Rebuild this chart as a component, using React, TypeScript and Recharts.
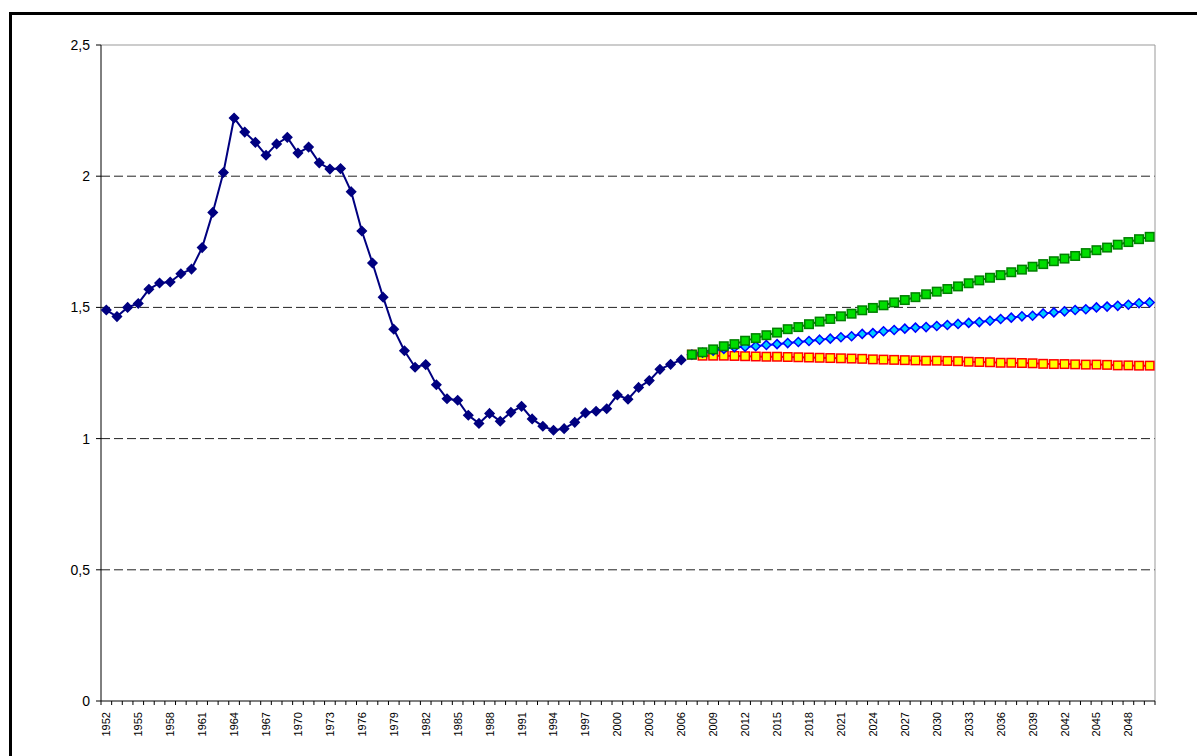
import React from "react";
import {
  LineChart,
  Line,
  XAxis,
  YAxis,
  CartesianGrid,
  ReferenceLine,
} from "recharts";

// years on the category axis
const YEARS: number[] = Array.from({ length: 99 }, (_, i) => 1952 + i);

// observed fertility, 1952-2006
const HISTORY: number[] = [
  1.49, 1.465, 1.5, 1.515, 1.569, 1.593, 1.597, 1.628, 1.646, 1.728,
  1.862, 2.014, 2.222, 2.168, 2.129, 2.08, 2.123, 2.148, 2.088, 2.111,
  2.051, 2.027, 2.029, 1.941, 1.791, 1.669, 1.539, 1.417, 1.335, 1.272,
  1.282, 1.205, 1.152, 1.146, 1.089, 1.058, 1.096, 1.066, 1.1, 1.123,
  1.075, 1.047, 1.032, 1.038, 1.062, 1.098, 1.104, 1.114, 1.166, 1.15,
  1.195, 1.221, 1.264, 1.283, 1.3,
];

// projections, 2007-2050
const HIGH: number[] = [
  1.32, 1.329, 1.34, 1.352, 1.36, 1.373, 1.383, 1.394, 1.404, 1.417,
  1.425, 1.436, 1.446, 1.456, 1.466, 1.476, 1.489, 1.498, 1.508, 1.519,
  1.528, 1.539, 1.55, 1.56, 1.57, 1.58, 1.592, 1.603, 1.613, 1.623,
  1.634, 1.644, 1.655, 1.665, 1.676, 1.686, 1.696, 1.707, 1.718, 1.728,
  1.739, 1.749, 1.76, 1.769,
];

const MEDIUM: number[] = [
  1.32, 1.327, 1.335, 1.342, 1.348, 1.35, 1.352, 1.357, 1.36, 1.364,
  1.368, 1.372, 1.377, 1.381, 1.386, 1.39, 1.399, 1.402, 1.409, 1.414,
  1.419, 1.423, 1.425, 1.429, 1.433, 1.437, 1.441, 1.444, 1.449, 1.456,
  1.461, 1.466, 1.468, 1.477, 1.481, 1.485, 1.49, 1.493, 1.5, 1.503,
  1.506, 1.51, 1.516, 1.519,
];

const LOW: number[] = [
  1.32, 1.316, 1.316, 1.316, 1.315, 1.314, 1.313, 1.312, 1.312, 1.311,
  1.31, 1.309, 1.308, 1.307, 1.306, 1.305, 1.304, 1.302, 1.301, 1.3,
  1.299, 1.298, 1.297, 1.297, 1.296, 1.295, 1.293, 1.292, 1.291, 1.289,
  1.289, 1.288, 1.287, 1.285, 1.284, 1.284, 1.283, 1.282, 1.282, 1.281,
  1.279, 1.279, 1.278, 1.278,
];

const Y_TICKS = [0, 0.5, 1, 1.5, 2, 2.5];
const PROJ_START = 2007;

const data = YEARS.map((year, i) => {
  const p = year - PROJ_START;
  return {
    year,
    history: i < HISTORY.length ? HISTORY[i] : null,
    high: p >= 0 ? HIGH[p] : null,
    medium: p >= 0 ? MEDIUM[p] : null,
    low: p >= 0 ? LOW[p] : null,
  };
});

const W = 1197;
const H = 756;
const MARGIN = { top: 45, right: 42, bottom: 0, left: 0 };
const Y_AXIS_W = 101;
const X_AXIS_H = 55;
const PLOT_RIGHT = W - MARGIN.right;
const BAND = (PLOT_RIGHT - Y_AXIS_W) / YEARS.length;
const FONT = "'Liberation Sans', Arial, sans-serif";

function YearTick(props: any) {
  const { x, y, payload } = props;
  const idx = YEARS.indexOf(payload.value);
  const half = BAND / 2;
  const ty = y + 11;
  return (
    <g>
      <line x1={x - half} x2={x - half} y1={y} y2={y + 4} stroke="#000" />
      {idx === YEARS.length - 1 && (
        <line x1={x + half} x2={x + half} y1={y} y2={y + 4} stroke="#000" />
      )}
      {idx % 3 === 0 && (
        <text
          x={x}
          y={ty}
          transform={`rotate(-90 ${x} ${ty})`}
          textAnchor="end"
          dominantBaseline="central"
          fontSize={11}
          fontFamily={FONT}
          fill="#000"
        >
          {payload.value}
        </text>
      )}
    </g>
  );
}

function diamond(fill: string, stroke: string, r: number) {
  return (props: any) => {
    const { cx, cy, index } = props;
    if (cx == null || cy == null) return <g key={`d${index}`} />;
    return (
      <path
        key={`d${index}`}
        d={`M${cx},${cy - r}L${cx + r},${cy}L${cx},${cy + r}L${cx - r},${cy}Z`}
        fill={fill}
        stroke={stroke}
        strokeWidth={1.5}
      />
    );
  };
}

function square(fill: string, stroke: string, s: number) {
  return (props: any) => {
    const { cx, cy, index } = props;
    if (cx == null || cy == null) return <g key={`s${index}`} />;
    return (
      <rect
        key={`s${index}`}
        x={cx - s / 2}
        y={cy - s / 2}
        width={s}
        height={s}
        fill={fill}
        stroke={stroke}
        strokeWidth={1.5}
      />
    );
  };
}

export default function App() {
  return (
    <div
      style={{
        position: "absolute",
        left: 0,
        top: 0,
        width: W,
        height: H,
        overflow: "hidden",
        background: "#fff",
      }}
    >
      <div
        style={{
          position: "absolute",
          left: 9,
          top: 12,
          width: W + 20,
          height: H + 20,
          border: "3px solid #000",
          boxSizing: "border-box",
        }}
      />
      <div style={{ position: "absolute", left: 0, top: 0 }}>
        <LineChart width={W} height={H} data={data} margin={MARGIN}>
          <CartesianGrid
            vertical={false}
            horizontalValues={[0.5, 1, 1.5, 2]}
            stroke="#222"
            strokeDasharray="9 4"
          />
          <CartesianGrid
            horizontal={false}
            verticalPoints={[PLOT_RIGHT]}
            stroke="#999"
          />
          <XAxis
            dataKey="year"
            type="category"
            scale="band"
            interval={0}
            height={X_AXIS_H}
            tickSize={0}
            tickMargin={0}
            tickLine={false}
            axisLine={{ stroke: "#000" }}
            tick={<YearTick />}
          />
          <YAxis
            width={Y_AXIS_W}
            domain={[0, 2.5]}
            ticks={Y_TICKS}
            interval={0}
            tickSize={5}
            tickMargin={6}
            axisLine={{ stroke: "#000" }}
            tickLine={{ stroke: "#000" }}
            tick={{ fontSize: 14, fontFamily: FONT, fill: "#000" }}
            tickFormatter={(v: number) => String(v).replace(".", ",")}
          />
          <ReferenceLine y={2.5} stroke="#999" />
          <Line
            dataKey="history"
            type="linear"
            stroke="#000080"
            strokeWidth={2}
            dot={diamond("#000080", "#000080", 4.5)}
            activeDot={false}
            isAnimationActive={false}
          />
          <Line
            dataKey="low"
            type="linear"
            stroke="#ff0000"
            strokeWidth={2}
            dot={square("#ffff00", "#ff0000", 8.5)}
            activeDot={false}
            isAnimationActive={false}
          />
          <Line
            dataKey="medium"
            type="linear"
            stroke="#0000ff"
            strokeWidth={2}
            dot={diamond("#00ccff", "#0000ff", 4.5)}
            activeDot={false}
            isAnimationActive={false}
          />
          <Line
            dataKey="high"
            type="linear"
            stroke="#008000"
            strokeWidth={2}
            dot={square("#00dd00", "#008000", 8.5)}
            activeDot={false}
            isAnimationActive={false}
          />
        </LineChart>
      </div>
    </div>
  );
}
